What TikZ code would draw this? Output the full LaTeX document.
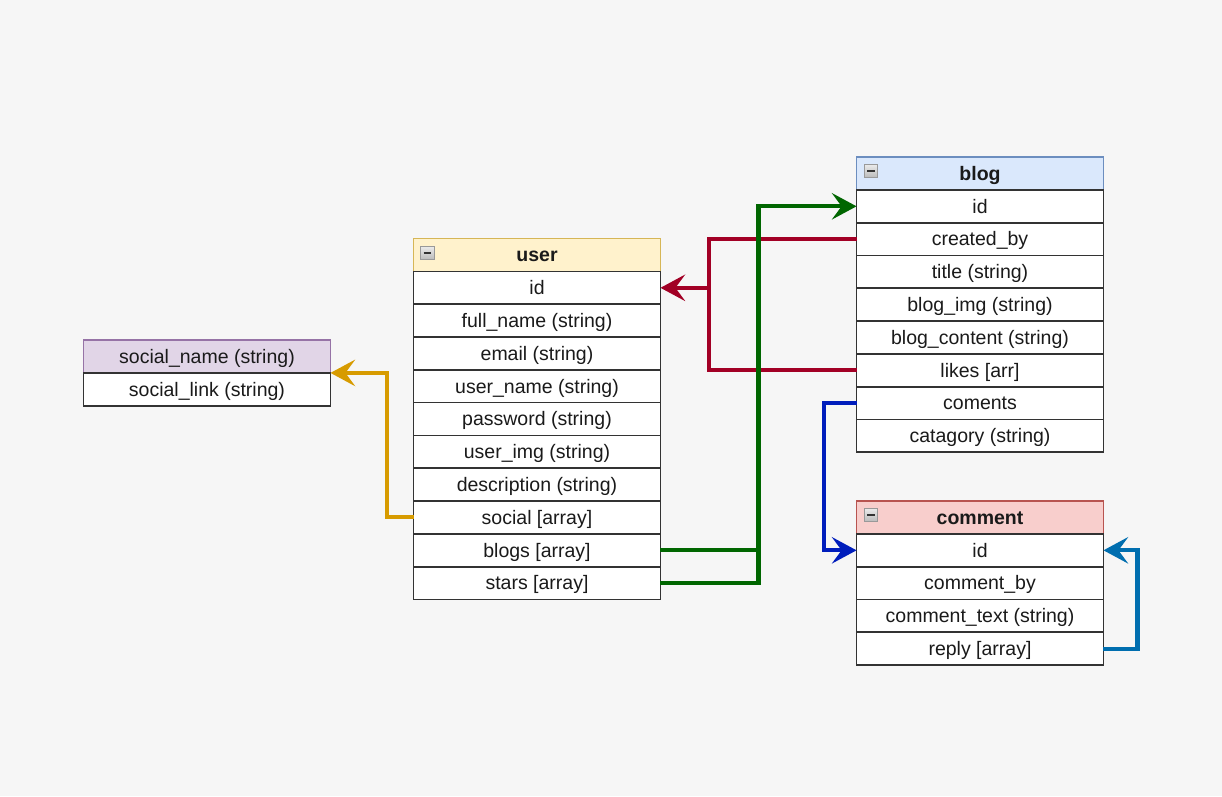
\documentclass[tikz,border=0pt]{standalone}
\usepackage{fontspec}
\setmainfont{Liberation Sans}
\usetikzlibrary{arrows.meta}
\definecolor{erdbg}{HTML}{F6F6F6}
\definecolor{erdline}{HTML}{333333}
\definecolor{erdtext}{HTML}{1A1A1A}
\definecolor{usrfill}{HTML}{FFF2CC}\definecolor{usrline}{HTML}{D6B656}
\definecolor{blgfill}{HTML}{DAE8FC}\definecolor{blgline}{HTML}{6C8EBF}
\definecolor{cmtfill}{HTML}{F8CECC}\definecolor{cmtline}{HTML}{B85450}
\definecolor{socfill}{HTML}{E1D5E7}\definecolor{socline}{HTML}{9673A6}
\definecolor{erdorg}{HTML}{D79B00}
\definecolor{erdgrn}{HTML}{006600}
\definecolor{erdcrm}{HTML}{A20025}
\definecolor{erdblu}{HTML}{001DBC}
\definecolor{erdsky}{HTML}{006EAF}
\tikzset{
  erdrow/.style={draw=erdline, fill=white, line width=1pt, minimum width=4.94cm,
    minimum height=0.656cm, inner sep=0pt, outer sep=0pt, text=erdtext,
    font=\fontsize{11.1}{13}\selectfont, text height=8.9pt, text depth=1.1pt},
  erdhead/.style={erdrow, font=\fontsize{11.1}{13}\selectfont\bfseries},
  erdmin/.style={draw=gray!80, line width=0.6pt, top color=gray!15, bottom color=gray!55,
    minimum size=7.9pt, inner sep=0pt, outer sep=0pt,
    path picture={\draw[black!80,line width=1pt]
      ([xshift=1.8pt]path picture bounding box.west) -- ([xshift=-1.8pt]path picture bounding box.east);}},
  erdwire/.style={line width=2.3pt},
  erdlink/.style={erdwire, -{Stealth[length=14pt,width=15pt,inset=5.5pt]}}
}
\begin{document}
\begin{tikzpicture}[x=0.02cm,y=-0.02cm]
	\def\erdh{32.8}
	\def\usrx{537}\def\usry{255}
	\def\blgx{980}\def\blgy{173.5}
	\def\cmtx{980}\def\cmty{517.5}
	\def\socx{207}\def\socy{356.5}
	\fill[erdbg] (0,0) rectangle (1222,796);
	\useasboundingbox (0,0) rectangle (1222,796);
	\node[erdrow,fill=socfill,draw=socline] (socnam) at (\socx,\socy) {social\_name (string)};
	\node[erdrow] (soclnk) at (\socx,\socy+\erdh) {social\_link (string)};
	\node[erdhead,fill=usrfill,draw=usrline] (usrhd) at (\usrx,\usry) {user};
	\node[erdrow] (usrid) at (\usrx,\usry+\erdh) {id};
	\node[erdrow] (usrfnm) at (\usrx,\usry+2*\erdh) {full\_name (string)};
	\node[erdrow] (usrmal) at (\usrx,\usry+3*\erdh) {email (string)};
	\node[erdrow] (usrunm) at (\usrx,\usry+4*\erdh) {user\_name (string)};
	\node[erdrow] (usrpwd) at (\usrx,\usry+5*\erdh) {password (string)};
	\node[erdrow] (usrimg) at (\usrx,\usry+6*\erdh) {user\_img (string)};
	\node[erdrow] (usrdsc) at (\usrx,\usry+7*\erdh) {description (string)};
	\node[erdrow] (usrsoc) at (\usrx,\usry+8*\erdh) {social [array]};
	\node[erdrow] (usrblg) at (\usrx,\usry+9*\erdh) {blogs [array]};
	\node[erdrow] (usrstr) at (\usrx,\usry+10*\erdh) {stars [array]};
	\node[erdmin] (usrmin) at (427.5,253) {};
	\node[erdhead,fill=blgfill,draw=blgline] (blghd) at (\blgx,\blgy) {blog};
	\node[erdrow] (blgid) at (\blgx,\blgy+\erdh) {id};
	\node[erdrow] (blgcrt) at (\blgx,\blgy+2*\erdh) {created\_by};
	\node[erdrow] (blgttl) at (\blgx,\blgy+3*\erdh) {title (string)};
	\node[erdrow] (blgimg) at (\blgx,\blgy+4*\erdh) {blog\_img (string)};
	\node[erdrow] (blgcnt) at (\blgx,\blgy+5*\erdh) {blog\_content (string)};
	\node[erdrow] (blglik) at (\blgx,\blgy+6*\erdh) {likes [arr]};
	\node[erdrow] (blgcom) at (\blgx,\blgy+7*\erdh) {coments};
	\node[erdrow] (blgcat) at (\blgx,\blgy+8*\erdh) {catagory (string)};
	\node[erdmin] (blgmin) at (871,171) {};
	\node[erdhead,fill=cmtfill,draw=cmtline] (cmthd) at (\cmtx,\cmty) {comment};
	\node[erdrow] (cmtid) at (\cmtx,\cmty+\erdh) {id};
	\node[erdrow] (cmtby) at (\cmtx,\cmty+2*\erdh) {comment\_by};
	\node[erdrow] (cmttxt) at (\cmtx,\cmty+3*\erdh) {comment\_text (string)};
	\node[erdrow] (cmtrep) at (\cmtx,\cmty+4*\erdh) {reply [array]};
	\node[erdmin] (cmtmin) at (871,515) {};
	\path (usrblg.east) ++(98,0) coordinate (grnj)
	(blgcrt.west) ++(-148,0) coordinate (crmj);
	\draw[erdlink,draw=erdorg] (usrsoc.west) -- ++(-27,0) |- (socnam.south east);
	\draw[erdlink,draw=erdcrm] (blgcrt.west) -- (crmj) |- (usrid.east);
	\draw[erdwire,draw=erdcrm] (blglik.west) -| (crmj);
	\draw[erdlink,draw=erdgrn] (usrblg.east) -- (grnj) |- (blgid.west);
	\draw[erdwire,draw=erdgrn] (usrstr.east) -| (grnj);
	\draw[erdlink,draw=erdblu] (blgcom.west) -- ++(-33,0) |- (cmtid.west);
	\draw[erdlink,draw=erdsky] (cmtrep.east) -- ++(34,0) |- (cmtid.east);
\end{tikzpicture}
\end{document}
